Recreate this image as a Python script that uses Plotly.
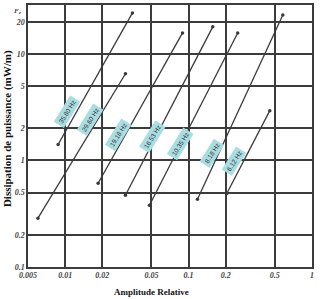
import math
import plotly.graph_objects as go

# Data (start / end points of each curve)
freq_labels = ["35.80 Hz", "29.60 Hz", "19.18 Hz", "16.53 Hz", "10.35 Hz", "8.18 Hz", "6.12 Hz"]
amp_start = [0.00877, 0.00602, 0.0185, 0.0308, 0.0482, 0.118, 0.204]
amp_end = [0.0351, 0.0308, 0.0893, 0.157, 0.25, 0.58, 0.455]
pow_start = [1.41, 0.287, 0.61, 0.471, 0.38, 0.432, 0.49]
pow_end = [24.2, 6.5, 15.7, 17.9, 15.7, 23.1, 2.93]
# label positions (on the curves)
lab_x = [0.0104, 0.0160, 0.0270, 0.0509, 0.086, 0.154, 0.232]
lab_y = [2.87, 2.42, 1.75, 1.68, 1.44, 1.16, 0.98]

x_ticks = [0.005, 0.01, 0.02, 0.05, 0.1, 0.2, 0.5, 1]
x_ticktext = ["0.005", "0.01", "0.02", "0.05", "0.1", "0.2", "0.5", "1"]
y_ticks = [0.1, 0.2, 0.5, 1, 2, 5, 10, 20]
y_ticktext = ["0.1", "0.2", "0.5", "1", "2", "5", "10", "20"]

fig = go.Figure()
for i in range(len(freq_labels)):
    fig.add_trace(go.Scatter(
        x=[amp_start[i], amp_end[i]], y=[pow_start[i], pow_end[i]],
        mode="lines+markers",
        line=dict(color="#3a3a3a", width=1.3),
        marker=dict(size=3.5, color="#3a3a3a"),
        showlegend=False, hoverinfo="skip"))

for i in range(len(freq_labels)):
    fig.add_annotation(
        x=math.log10(lab_x[i]), y=math.log10(lab_y[i]),
        text=freq_labels[i], showarrow=False, textangle=-58,
        font=dict(family="Liberation Sans", size=6.5, color="#333"),
        bgcolor="#a9dde2", borderpad=2)

tickfont = dict(family="Liberation Serif", size=8, color="#444",
                style="italic", weight="bold")
fig.update_xaxes(
    type="log", range=[-2.301, 0], tickvals=x_ticks, ticktext=x_ticktext,
    showgrid=True, gridcolor="#3c3c3c", gridwidth=1.5,
    showline=True, linecolor="#3c3c3c", linewidth=1.5, mirror=True,
    zeroline=False, ticks="", tickfont=tickfont)
fig.update_yaxes(
    type="log", range=[-1, 1.458], tickvals=y_ticks, ticktext=y_ticktext,
    showgrid=True, gridcolor="#3c3c3c", gridwidth=1.5,
    showline=True, linecolor="#3c3c3c", linewidth=1.5, mirror=True,
    zeroline=False, ticks="", tickfont=tickfont)

fig.add_annotation(xref="paper", yref="paper", x=-0.035, y=1.0,
                   xanchor="center", yanchor="top",
                   text="F<sub>e</sub>", showarrow=False,
                   font=dict(family="Liberation Serif", size=7, color="#444",
                             style="italic", weight="bold"))
fig.add_annotation(xref="paper", yref="paper", x=-0.074, y=0.53,
                   xanchor="center", yanchor="middle",
                   text="<b>Dissipation de puissance (mW/m)</b>", showarrow=False,
                   textangle=-90,
                   font=dict(family="Liberation Serif", size=11, color="#111"))
fig.add_annotation(xref="paper", yref="paper", x=0.435, y=-0.097,
                   xanchor="center", yanchor="middle",
                   text="<b>Amplitude Relative</b>", showarrow=False,
                   font=dict(family="Liberation Serif", size=9, color="#111"))

fig.update_layout(
    width=328, height=299,
    margin=dict(l=28, r=16, t=3, b=32),
    paper_bgcolor="white", plot_bgcolor="white")

fig.write_html("out.html")
